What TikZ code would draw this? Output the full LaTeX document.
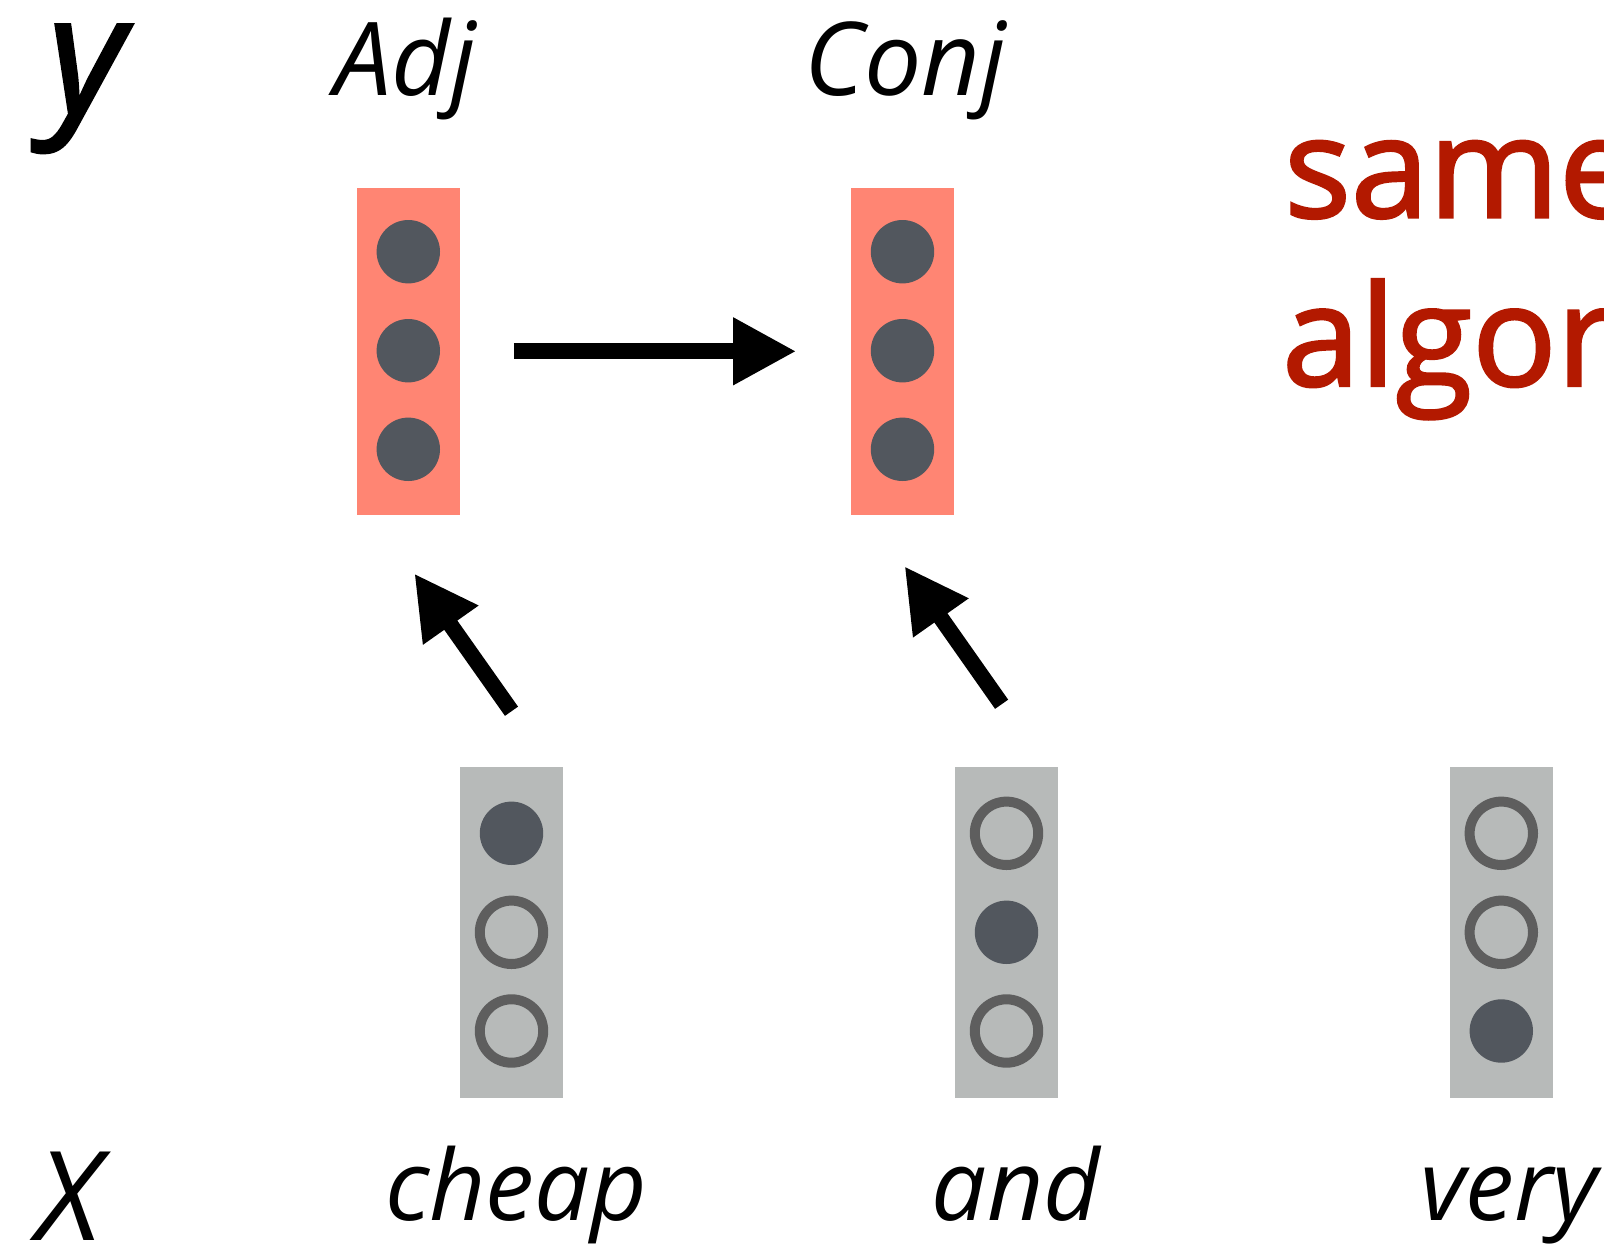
\documentclass[tikz,border=0pt]{standalone}
\usepackage{fontspec}
\setmainfont{Open Sans}
\newfontfamily\heavysans[FakeBold=2]{Open Sans}
\usetikzlibrary{arrows.meta,calc}
\definecolor{salmon}{RGB}{255,133,115}
\definecolor{dotdark}{RGB}{82,87,94}
\definecolor{boxgray}{RGB}{183,186,185}
\definecolor{ringgray}{RGB}{94,94,94}
\definecolor{algred}{RGB}{179,25,0}
\tikzset{
  tagbox/.style={rectangle, fill=salmon, minimum width=103.3pt, minimum height=326.7pt, inner sep=0pt},
  wordbox/.style={rectangle, fill=boxgray, minimum width=102.5pt, minimum height=330.7pt, inner sep=0pt},
  ondot/.style={circle, fill=dotdark, minimum size=63.4pt, inner sep=0pt},
  offdot/.style={circle, draw=ringgray, line width=10pt, fill=boxgray, minimum size=63.4pt, inner sep=0pt},
  bigarrow/.style={line width=16pt, line cap=butt, -{Triangle[length=63.3pt,width=63.3pt]}},
  tagtext/.style={font=\fontsize{102}{102}\selectfont\itshape, inner sep=0pt, anchor=base},
  wordtext/.style={font=\fontsize{98}{98}\selectfont\itshape, inner sep=0pt, anchor=base},
  sidetext/.style={font=\heavysans\fontsize{140}{140}\selectfont, text=algred, inner sep=0pt, anchor=base west}
}
\begin{document}
\begin{tikzpicture}[x=1pt,y=-1pt]
\clip (0,0) rectangle (1604,1245);
\fill[white] (0,0) rectangle (1604,1245);

% output tag vectors
\node[tagbox] (r1) at (408.3,351.3) {};
\node[tagbox] (r2) at (902.5,351.3) {};
\foreach \b in {r1,r2}{
  \node[ondot] (\b a) at ($(\b)+(0,-99.6)$) {};
  \node[ondot] (\b b) at ($(\b)+(0,-0.6)$) {};
  \node[ondot] (\b c) at ($(\b)+(0,98)$) {};
}

% one-hot word vectors
\node[wordbox] (g1) at (511.5,932.3) {};
\node[wordbox] (g2) at (1006.5,932.3) {};
\node[wordbox] (g3) at (1501.3,932.3) {};
\node[ondot]  (g1a) at ($(g1)+(0,-99)$) {};
\node[offdot] (g1b) at ($(g1)+(0,0)$) {};
\node[offdot] (g1c) at ($(g1)+(0,98.7)$) {};
\node[offdot] (g2a) at ($(g2)+(0,-99)$) {};
\node[ondot]  (g2b) at ($(g2)+(0,0)$) {};
\node[offdot] (g2c) at ($(g2)+(0,98.7)$) {};
\node[offdot] (g3a) at ($(g3)+(0,-99)$) {};
\node[offdot] (g3b) at ($(g3)+(0,0)$) {};
\node[ondot]  (g3c) at ($(g3)+(0,98.7)$) {};

% arrows
\draw[bigarrow, shorten <=53.7pt, shorten >=54.3pt] (r1.east) -- (r2.west);
\coordinate (t1) at ($(g1.north)+(0,-55.5)$);
\coordinate (h1) at ($(r1.south)+(6,58.6)$);
\coordinate (t2) at ($(g2.north)+(-4.9,-62.5)$);
\coordinate (h2) at ($(r2.south)+(2,51.3)$);
\draw[bigarrow] (t1) -- (h1);
\draw[bigarrow] (t2) -- (h2);

% labels
\node[font=\heavysans\fontsize{165}{165}\selectfont\itshape, inner sep=0pt, anchor=base west] (ylab) at (48,113) {y};
\node[font=\fontsize{124}{124}\selectfont\itshape, inner sep=0pt, anchor=base west] (xlab) at (36,1240) {X};
\node[tagtext] (adj) at (405,95) {Adj};
\node[tagtext] (conj) at (905,95) {Conj};
\node[wordtext] (w1) at (516,1220) {cheap};
\node[wordtext] (w2) at (1016,1220) {and};
\node[wordtext, anchor=base west] (w3) at (1420,1220) {very};
\node[sidetext] (s1) at (1284,217.3) {same};
\node[sidetext] (s2) at (1282,385.7) {algor};
\end{tikzpicture}
\end{document}
